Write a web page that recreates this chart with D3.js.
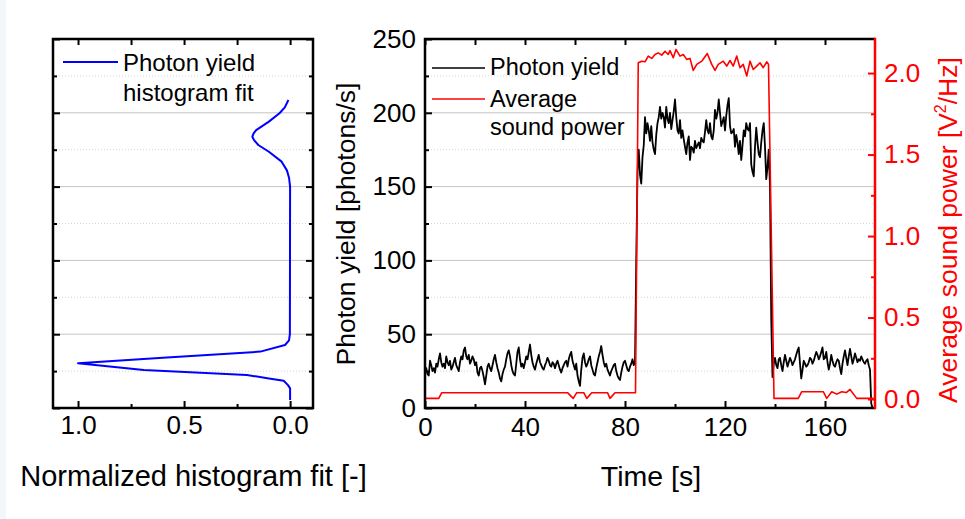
<!DOCTYPE html>
<html><head><meta charset="utf-8">
<script src="https://cdn.jsdelivr.net/npm/d3@7"></script>
<style>
body{margin:0;background:#fff;}
svg{display:block;font-family:"Liberation Sans",Arial,sans-serif;}
</style></head><body>
<svg id="chart" width="965" height="519"></svg>
<script>
// ---------------- data ----------------
const photonStep = 0.5; // seconds between samples, first sample at t = 0
const photonYield = [
 25,27,23,22,32,29,25,27,24,30,
 28,33,37,31,28,30,27,35,31,29,
 32,26,28,31,34,29,27,25,31,35,
 33,39,41,35,33,36,30,32,35,33,
 29,31,24,22,27,28,25,21,16,22,
 28,30,27,25,29,33,36,31,27,24,
 20,18,23,26,28,33,37,39,35,29,
 25,23,22,30,38,41,33,28,30,27,
 31,35,33,38,43,36,31,28,26,30,
 33,36,31,29,27,26,29,31,34,32,
 29,28,31,30,27,30,32,29,26,24,
 27,29,31,32,28,33,36,38,32,29,
 26,30,22,18,15,26,34,37,31,28,
 30,33,35,29,26,23,22,27,31,35,
 38,42,36,31,28,30,26,24,22,25,
 27,29,30,25,22,20,19,24,28,31,
 32,29,26,25,28,30,33,29,31,100,
 160,175,158,152,170,178,197,186,193,188,
 181,191,180,175,172,185,193,197,204,196,
 200,197,190,204,196,193,200,189,195,201,
 209,197,188,186,195,183,188,182,177,172,
 180,184,168,177,176,173,181,176,178,180,
 176,183,181,180,187,195,188,186,193,184,
 182,188,202,196,200,209,200,191,194,197,
 188,198,205,210,191,186,187,189,177,185,
 180,172,181,168,178,188,184,193,189,188,
 193,165,160,157,177,190,180,172,170,180,
 188,193,177,155,163,175,150,60,21,30,
 34,29,27,33,34,29,25,31,36,32,
 28,31,34,32,29,31,33,36,39,41,
 30,20,26,32,30,28,29,31,34,33,
 30,32,35,38,36,33,35,38,41,33,
 34,38,31,26,30,36,32,29,28,31,
 33,32,27,23,30,35,39,34,29,35,
 40,35,30,33,37,34,31,33,32,35,
 33,31,30,32,33,29,26,3,0
];
// [time (s), average sound power (V^2/Hz)]
const soundPower = [
 [0,0.004],[5.5,0.004],[6.7,0.039],[57,0.039],[59.3,0.004],[60.7,0.039],[63.5,0.039],
 [64.7,0.004],[66.7,0.039],[73,0.039],[74,0.004],[76,0.039],[84.2,0.039],
 [85.3,2.063],[86.7,2.073],[88.0,2.069],[89.3,2.104],[90.7,2.09],[92.0,2.114],[93.3,2.124],
 [94.7,2.11],[96.0,2.134],[97.3,2.114],[98.0,2.138],[99.3,2.094],[100.4,2.145],[102.0,2.104],
 [103.3,2.114],[104.7,2.084],[106.0,2.09],[107.3,2.016],[108.7,2.053],[110.7,2.073],[112.9,2.12],
 [114.7,2.053],[116.0,2.016],[117.3,2.053],[119.3,2.073],[120.7,2.043],[122.0,2.077],[123.3,2.043],
 [124.7,2.104],[126.0,2.033],[127.3,2.053],[128.7,1.982],[130.0,2.073],[131.3,2.022],[132.7,2.043],
 [134.0,2.063],[135.3,2.033],[136.7,2.069],[137.4,2.053],
 [139.6,0.004],[149.3,0.004],[150.7,0.045],[159.3,0.045],[160.7,0.004],[162.7,0.045],
 [164.7,0.03],[166.7,0.045],[168.5,0.04],[170,0.059],[172.7,0.004],[179.5,0.004]
];
// histogram fit: photon yield (photons/s) and normalized value
const histYield = [5.4,13.3,15.5,18.5,20,22.4,25.7,30.3,34,38.2,42.7,45.8,50,150,156,161,166.9,173.6,178.2,181.5,183.8,186,188.3,194,199.7,203.7,208.7];
const histFit   = [0,0,0.01,0.03,0.1,0.204,0.69,1.0,0.6,0.14,0.024,0.005,0.001,0,0.005,0.015,0.04,0.1,0.15,0.17,0.178,0.172,0.16,0.1,0.05,0.025,0.008];

const timeTicks = [0,40,80,120,160];
const timeMinorTicks = [20,60,100,140];
const yieldTicks = [0,50,100,150,200,250];
const yieldMinorTicks = [25,75,125,175,225];
const powerTicks = [0,0.5,1.0,1.5,2.0];
const powerMinorTicks = [0.25,0.75,1.25,1.75];
const fitTicks = [1.0,0.5,0.0];
const fitMinorTicks = [0.75,0.25];

// ---------------- layout ----------------
const svg = d3.select("#chart");
const R = {left:425, right:875, top:39, bottom:408};
const L = {left:53, right:313, top:39, bottom:408};
const RED = "#ff0000", BLUE = "#0000ff";

const x  = d3.scaleLinear([0,180],[R.left,R.right]);
const y  = d3.scaleLinear([0,250],[R.bottom,R.top]);
const y2 = d3.scaleLinear([-0.055,2.209],[R.bottom,R.top]);
const xf = d3.scaleLinear([1.118,-0.108],[L.left,L.right]);

svg.append("rect").attr("width",965).attr("height",519).attr("fill","#fff");
svg.append("rect").attr("width",6).attr("height",519).attr("fill","#f2f7fb");

// gridlines
function grid(P){
  const g = svg.append("g");
  g.selectAll(".maj").data(yieldTicks.filter(v=>v>0&&v<250)).join("line")
    .attr("x1",P.left).attr("x2",P.right).attr("y1",d=>y(d)).attr("y2",d=>y(d))
    .attr("stroke","#c4c4c4").attr("stroke-width",1);
  g.selectAll(".min").data(yieldMinorTicks).join("line")
    .attr("x1",P.left).attr("x2",P.right).attr("y1",d=>y(d)).attr("y2",d=>y(d))
    .attr("stroke","#d4d4d4").attr("stroke-width",1).attr("stroke-dasharray","1,2");
}
grid(L); grid(R);

// clip
const defs = svg.append("defs");
defs.append("clipPath").attr("id","clipR").append("rect")
  .attr("x",R.left).attr("y",R.top).attr("width",R.right-R.left).attr("height",R.bottom-R.top);
defs.append("clipPath").attr("id","clipL").append("rect")
  .attr("x",L.left).attr("y",L.top).attr("width",L.right-L.left).attr("height",L.bottom-L.top);

// data lines
const photonLine = d3.line().x((d,i)=>x(i*photonStep)).y(d=>y(d));
svg.append("path").datum(photonYield).attr("clip-path","url(#clipR)")
  .attr("d",photonLine).attr("fill","none").attr("stroke","#000").attr("stroke-width",1.8)
  .attr("stroke-linejoin","round");
const powerLine = d3.line().x(d=>x(d[0])).y(d=>y2(d[1]));
svg.append("path").datum(soundPower).attr("clip-path","url(#clipR)")
  .attr("d",powerLine).attr("fill","none").attr("stroke",RED).attr("stroke-width",1.6)
  .attr("stroke-linejoin","round");
const histLine = d3.line().x((d,i)=>xf(histFit[i])).y(d=>y(d));
svg.append("path").datum(histYield).attr("clip-path","url(#clipL)")
  .attr("d",histLine).attr("fill","none").attr("stroke",BLUE).attr("stroke-width",2)
  .attr("stroke-linejoin","round");

// axes helper
function drawAxis(axis, tx, ty, color, fontSize){
  const g = svg.append("g").attr("transform",`translate(${tx},${ty})`).call(axis);
  g.select(".domain").remove();
  g.selectAll(".tick line").attr("stroke",color).attr("stroke-width",2);
  g.selectAll(".tick text").attr("fill",color).attr("font-size",fontSize)
    .attr("font-family",'"Liberation Sans",Arial,sans-serif');
  return g;
}
const f1 = d3.format(".1f");
// right panel
drawAxis(d3.axisLeft(y).tickValues(yieldTicks).tickSize(-7).tickSizeOuter(0).tickPadding(9), R.left,0,"#000",26);
drawAxis(d3.axisLeft(y).tickValues(yieldMinorTicks).tickSize(-4).tickSizeOuter(0).tickFormat(""), R.left,0,"#000",26);
drawAxis(d3.axisBottom(x).tickValues(timeTicks).tickSize(-7).tickSizeOuter(0).tickPadding(9.5), 0,R.bottom,"#000",26);
drawAxis(d3.axisBottom(x).tickValues(timeMinorTicks).tickSize(-4).tickSizeOuter(0).tickFormat(""), 0,R.bottom,"#000",26);
drawAxis(d3.axisTop(x).tickValues(timeTicks.concat(timeMinorTicks)).tickSize(-6).tickSizeOuter(0).tickFormat(""), 0,R.top,"#000",26);
drawAxis(d3.axisRight(y2).tickValues(powerTicks).tickSize(-7).tickSizeOuter(0).tickPadding(9).tickFormat(f1), R.right,0,RED,26);
drawAxis(d3.axisRight(y2).tickValues(powerMinorTicks).tickSize(-4).tickSizeOuter(0).tickFormat(""), R.right,0,RED,26);
// left panel
drawAxis(d3.axisBottom(xf).tickValues(fitTicks).tickSize(-7).tickSizeOuter(0).tickPadding(7.5).tickFormat(f1), 0,L.bottom,"#000",26);
drawAxis(d3.axisBottom(xf).tickValues(fitMinorTicks).tickSize(-4).tickSizeOuter(0).tickFormat(""), 0,L.bottom,"#000",26);
drawAxis(d3.axisTop(xf).tickValues(fitTicks.concat(fitMinorTicks)).tickSize(-6).tickSizeOuter(0).tickFormat(""), 0,L.top,"#000",26);
drawAxis(d3.axisLeft(y).tickValues(yieldTicks).tickSize(-7).tickSizeOuter(0).tickFormat(""), L.left,0,"#000",26);
drawAxis(d3.axisLeft(y).tickValues(yieldMinorTicks).tickSize(-4).tickSizeOuter(0).tickFormat(""), L.left,0,"#000",26);
drawAxis(d3.axisRight(y).tickValues(yieldTicks).tickSize(-7).tickSizeOuter(0).tickFormat(""), L.right,0,"#000",26);
drawAxis(d3.axisRight(y).tickValues(yieldMinorTicks).tickSize(-4).tickSizeOuter(0).tickFormat(""), L.right,0,"#000",26);

// frames
svg.append("rect").attr("x",L.left).attr("y",L.top).attr("width",L.right-L.left).attr("height",L.bottom-L.top)
  .attr("fill","none").attr("stroke","#000").attr("stroke-width",2.5);
svg.append("path").attr("d",`M${R.right},${R.top}H${R.left}V${R.bottom}H${R.right}`)
  .attr("fill","none").attr("stroke","#000").attr("stroke-width",2.5);
svg.append("line").attr("x1",R.right).attr("x2",R.right).attr("y1",R.top-1.25).attr("y2",R.bottom+1.25)
  .attr("stroke",RED).attr("stroke-width",2.5);

// titles
svg.append("text").attr("x",193.5).attr("y",486).attr("text-anchor","middle")
  .attr("font-size",29).attr("fill","#000").text("Normalized histogram fit [-]");
svg.append("text").attr("x",651).attr("y",486).attr("text-anchor","middle")
  .attr("font-size",28.5).attr("fill","#000").text("Time [s]");
svg.append("text").attr("transform","translate(355,224) rotate(-90)").attr("text-anchor","middle")
  .attr("font-size",26.5).attr("fill","#000").text("Photon yield [photons/s]");
const rt = svg.append("text").attr("transform","translate(957,230) rotate(-90)").attr("text-anchor","middle")
  .attr("font-size",26.5).attr("fill",RED);
rt.append("tspan").text("Average sound power [V");
rt.append("tspan").attr("font-size",16).attr("dy",-11).text("2");
rt.append("tspan").attr("dy",11).text("/Hz]");

// legends
svg.append("line").attr("x1",63).attr("x2",118).attr("y1",62).attr("y2",62).attr("stroke",BLUE).attr("stroke-width",2);
svg.append("text").attr("x",123).attr("y",70.7).attr("font-size",24).attr("fill","#000").text("Photon yield");
svg.append("text").attr("x",123).attr("y",100.7).attr("font-size",24).attr("fill","#000").text("histogram fit");

svg.append("line").attr("x1",432).attr("x2",485).attr("y1",68).attr("y2",68).attr("stroke","#000").attr("stroke-width",1.5);
svg.append("text").attr("x",490).attr("y",75).attr("font-size",23.5).attr("fill","#000").text("Photon yield");
svg.append("line").attr("x1",432).attr("x2",485).attr("y1",99).attr("y2",99).attr("stroke",RED).attr("stroke-width",1.5);
svg.append("text").attr("x",490).attr("y",107).attr("font-size",23.5).attr("fill","#000").text("Average");
svg.append("text").attr("x",490).attr("y",135).attr("font-size",23.5).attr("fill","#000").text("sound power");
</script>
</body></html>
